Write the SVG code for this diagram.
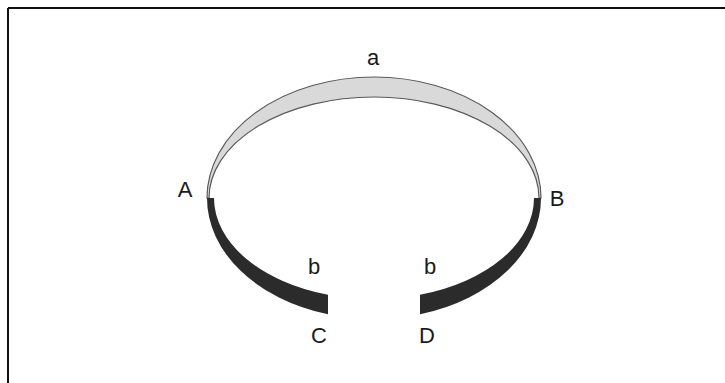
<svg xmlns="http://www.w3.org/2000/svg" width="725" height="383" viewBox="0 0 725 383">
<style>
.lbl{font-family:"Liberation Sans",Arial,sans-serif;font-size:22px;fill:#1a1a1a;text-anchor:middle}
.gray{fill:#d9d9d9;stroke:#5a5a5a;stroke-width:1.2}
.dark{fill:#2b2b2b;stroke:none}
</style>
<rect width="725" height="383" fill="#fff"/>
<g id="frame">
<line x1="8" y1="8" x2="725" y2="8" stroke="#111" stroke-width="2"/>
<line x1="8" y1="8" x2="8" y2="383" stroke="#111" stroke-width="2"/>
</g>
<g id="arc-a">
<path class="gray" d="M207,198 A167,121 0 0 1 541,198 L539,198 A165,101 0 0 0 209,198 Z"/>
<text class="lbl" x="373" y="65">a</text>
</g>
<g id="arc-b-left">
<path class="dark" d="M207,198 A167,121 0 0 0 328,314.3 L328,294.7 A160,101 0 0 1 214,198 Z"/>
<text class="lbl" x="314" y="274">b</text>
</g>
<g id="arc-b-right">
<path class="dark" d="M541,198 A167,121 0 0 1 420,314.3 L420,294.7 A160,101 0 0 0 534,198 Z"/>
<text class="lbl" x="430" y="274">b</text>
</g>
<g id="A"><text class="lbl" x="185" y="197">A</text></g>
<g id="B"><text class="lbl" x="557" y="206">B</text></g>
<g id="C"><text class="lbl" x="319" y="343">C</text></g>
<g id="D"><text class="lbl" x="427" y="343">D</text></g>
</svg>
